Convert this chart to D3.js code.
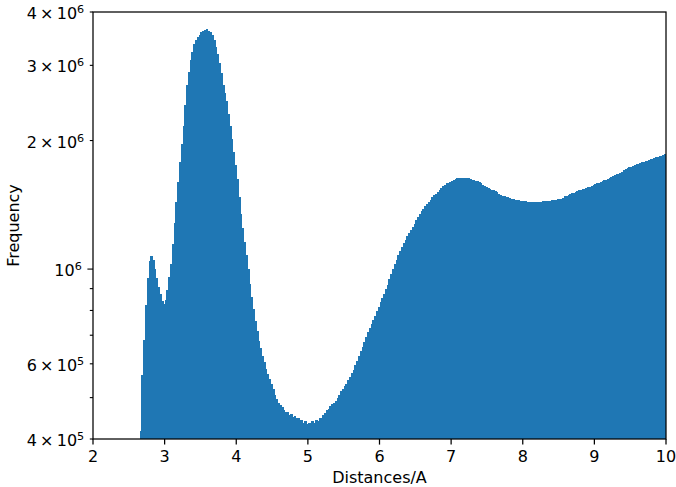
<!DOCTYPE html>
<html>
<head>
<meta charset="utf-8">
<script src="https://cdn.jsdelivr.net/npm/d3@7"></script>
<style>
  body { margin: 0; background: #fff; }
  text { font-family: "DejaVu Sans", sans-serif; fill: #000; }
</style>
</head>
<body>
<div id="chart"></div>
<script>
// histogram bins: left edge of first bin and bin width (Angstrom)
var binStart = 2.65;
var binWidth = 0.025;

// counts per bin, in thousands
var countsK = [
  418, 565, 682, 824, 953, 1045, 1075, 1048, 1001, 953,
  908, 874, 844, 830, 845, 895, 957, 1028, 1144, 1280,
  1434, 1600, 1782, 1965, 2164, 2427, 2700, 2898, 3085, 3230,
  3360, 3440, 3490, 3535, 3585, 3610, 3628, 3650, 3618, 3585,
  3525, 3445, 3320, 3195, 3040, 2880, 2705, 2585, 2470, 2313,
  2160, 2015, 1883, 1755, 1625, 1475, 1347, 1246, 1157, 1077,
  998, 923, 860, 805, 756, 718, 680, 652, 626, 607,
  585, 567, 553, 538, 524, 508, 495, 487, 481, 475,
  467, 462, 463, 456, 457, 451, 453, 447, 448, 442,
  443, 437, 440, 434, 437, 435, 440, 436, 443, 440,
  449, 449, 456, 459, 467, 469, 477, 482, 487, 491,
  498, 508, 517, 524, 531, 539, 549, 560, 570, 581,
  596, 610, 625, 642, 658, 676, 694, 711, 727, 743,
  759, 777, 797, 816, 836, 855, 875, 896, 919, 947,
  975, 1003, 1027, 1053, 1077, 1102, 1124, 1148, 1171, 1194,
  1214, 1234, 1253, 1275, 1300, 1324, 1349, 1368, 1386, 1404,
  1423, 1439, 1455, 1472, 1488, 1503, 1519, 1535, 1549, 1563,
  1576, 1590, 1595, 1600, 1609, 1619, 1628, 1635, 1638, 1638,
  1636, 1635, 1634, 1630, 1626, 1621, 1617, 1612, 1606, 1597,
  1587, 1577, 1568, 1560, 1552, 1541, 1535, 1528, 1521, 1515,
  1502, 1490, 1486, 1481, 1477, 1472, 1465, 1462, 1458, 1454,
  1452, 1449, 1446, 1444, 1442, 1440, 1439, 1437, 1436, 1436,
  1437, 1437, 1438, 1438, 1439, 1440, 1442, 1443, 1445, 1446,
  1448, 1450, 1453, 1456, 1457, 1462, 1471, 1481, 1486, 1492,
  1498, 1505, 1511, 1518, 1524, 1528, 1533, 1539, 1544, 1550,
  1553, 1556, 1563, 1573, 1582, 1590, 1593, 1597, 1605, 1613,
  1621, 1628, 1632, 1640, 1649, 1659, 1668, 1674, 1679, 1691,
  1702, 1713, 1723, 1730, 1738, 1747, 1756, 1760, 1766, 1770,
  1777, 1784, 1789, 1795, 1801, 1807, 1813, 1819, 1826, 1832,
  1837, 1844, 1852, 1859
];

var xTicks = [2, 3, 4, 5, 6, 7, 8, 9, 10];
var yMajorTicks = [1e6];
var yLabeledMinor = [4e5, 6e5, 2e6, 3e6, 4e6];
var yPlainMinor = [5e5, 7e5, 8e5, 9e5];

var margin = {top: 12, right: 10, bottom: 48, left: 93};
var W = 676, H = 487;
var w = W - margin.left - margin.right;
var h = H - margin.top - margin.bottom;

var bins = countsK.map(function(c, i) {
  return {x0: binStart + i * binWidth, x1: binStart + (i + 1) * binWidth, count: c * 1000};
});

var svg = d3.select("#chart").append("svg")
  .attr("width", W)
  .attr("height", H);

var g = svg.append("g")
  .attr("transform", "translate(" + margin.left + "," + margin.top + ")");

var x = d3.scaleLinear().domain([2, 10]).range([0, w]);
var y = d3.scaleLog().domain([4e5, 4e6]).range([h, 0]);

g.append("clipPath").attr("id", "clip")
  .append("rect").attr("width", w).attr("height", h);

// bars (slight overlap + crisp edges so no seams show between thin bins)
g.append("g").attr("clip-path", "url(#clip)")
  .attr("shape-rendering", "crispEdges")
  .selectAll("rect")
  .data(bins)
  .enter().append("rect")
  .attr("x", function(d) { return x(d.x0); })
  .attr("width", function(d) { return x(d.x1) - x(d.x0) + 0.8; })
  .attr("y", function(d) { return y(d.count); })
  .attr("height", function(d) { return h - y(d.count); })
  .attr("fill", "#1f77b4");

// frame
g.append("rect")
  .attr("width", w).attr("height", h)
  .attr("fill", "none").attr("stroke", "#000").attr("stroke-width", 1.25);

// x ticks
var xt = g.append("g").selectAll(".xt").data(xTicks).enter().append("g")
  .attr("transform", function(d) { return "translate(" + x(d) + "," + h + ")"; });
xt.append("line").attr("y2", 5.6).attr("stroke", "#000").attr("stroke-width", 1.25);
xt.append("text").attr("y", 23).attr("text-anchor", "middle")
  .style("font-size", "16px").text(function(d) { return d; });

// y ticks
function yTick(list, len, labeled) {
  var t = g.append("g").selectAll("g").data(list).enter().append("g")
    .attr("transform", function(d) { return "translate(0," + y(d) + ")"; });
  t.append("line").attr("x2", -len).attr("stroke", "#000").attr("stroke-width", 1.1);
  if (!labeled) return;
  var txt = t.append("text").attr("x", -len - 5.6).attr("y", 7)
    .attr("text-anchor", "end").style("font-size", "16px");
  txt.each(function(d) {
    var e = Math.floor(Math.log10(d) + 1e-9);
    var m = Math.round(d / Math.pow(10, e));
    var s = d3.select(this);
    s.append("tspan").text(m === 1 ? "10" : m + "\u2009\u00d7\u200910");
    s.append("tspan").attr("dy", -6).style("font-size", "11.2px").text(e);
  });
}
yTick(yPlainMinor, 3.2, false);
yTick(yLabeledMinor, 3.2, true);
yTick(yMajorTicks, 5.6, true);

// axis labels
svg.append("text")
  .attr("x", margin.left + w / 2).attr("y", 483)
  .attr("text-anchor", "middle").style("font-size", "16px")
  .text("Distances/A");

svg.append("text")
  .attr("transform", "translate(18.5," + (margin.top + h / 2) + ") rotate(-90)")
  .attr("text-anchor", "middle").style("font-size", "16px")
  .text("Frequency");
</script>
</body>
</html>
